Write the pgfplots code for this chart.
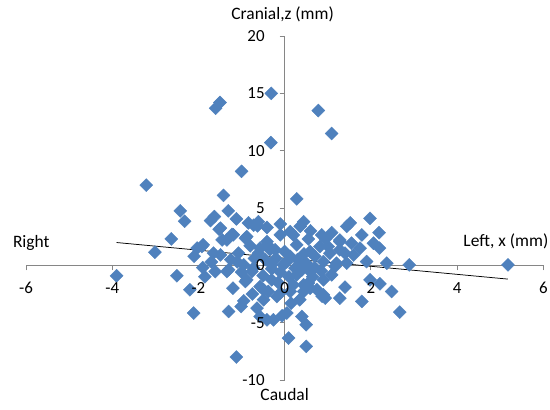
\documentclass[border=0pt]{standalone}
\usepackage{fontspec}
\setmainfont{Carlito}
\usepackage{pgfplots}
\pgfplotsset{compat=1.18}
\definecolor{mk}{HTML}{4F81BD}
\definecolor{axc}{HTML}{868686}
\pgfplotsset{common/.style={
  width=517.3bp, height=344bp, scale only axis,
  axis lines=middle,
  xmin=-6, xmax=6, ymin=-10, ymax=20,
  xtick={-6,-4,...,6}, ytick={-10,-5,...,20},
  hide obscured x ticks=false, hide obscured y ticks=false,
  tick align=outside, major tick length=5bp,
  ticklabel style={font=\fontsize{17}{20}\selectfont, text=black},
  xticklabel style={yshift=-6bp},
  yticklabel style={xshift=-9bp},
  /pgf/number format/assume math mode=true,
  clip=false,
}}
\begin{document}
\fontsize{17.5}{20}\selectfont
\begin{tikzpicture}
\begin{axis}[common,
  axis line style={axc, -, line width=0.75bp},
  tick style={axc, line width=0.75bp},
  xticklabels={}, yticklabels={},
]
\coordinate (bl) at (rel axis cs:0,0);
\coordinate (tr) at (rel axis cs:1,1);
\addplot[only marks, mark=square*, mark size=4.6bp, mark options={rotate=45, fill=mk, draw=mk}] coordinates {
(-0.31,15.0) (-1.60,13.7) (-1.50,14.2) (0.78,13.5) (1.09,11.5) (-0.32,10.7) (-1.00,8.2) (-3.21,7.0) (-1.42,6.1) (0.28,5.8)
(-2.42,4.75) (-2.32,3.85) (-2.63,2.3) (-1.63,4.25) (-1.72,3.9) (-1.52,3.15) (-1.31,4.75) (-1.12,4.05) (-0.84,3.7) (-0.63,3.45)
(-0.41,3.3) (-0.61,3.8) (-1.22,2.7) (-0.88,2.5) (-1.49,3.24) (-1.34,2.22) (-1.19,2.66) (-1.45,2.22) (-0.91,2.37) (-0.72,3.5)
(-0.41,2.07) (-0.10,2.66) (0.13,2.94) (0.20,2.65)
(0.44,3.8) (0.36,3.4) (0.86,2.65) (1.09,2.85) (1.52,3.7) (1.44,3.4) (1.98,4.1) (1.79,2.65) (2.19,2.85) (1.28,2.2)
(1.55,1.93) (2.06,1.93) (0.82,1.64) (1.01,1.64) (1.28,2.07) (1.28,1.35) (1.05,1.06) (1.40,1.06) (0.90,0.33) (1.20,0.19)
(1.90,0.33) (2.37,0.19) (2.89,0.04) (5.18,0.04) (1.17,-0.1) (1.44,0.19) (0.59,1.2) (0.28,1.79) (0.36,0.04) (0.13,0.77)
(0.24,-0.24) (-0.03,0.04)
(-3.01,1.15) (-3.90,-0.91) (-2.50,-0.91) (-2.03,1.5) (-1.89,1.79) (-1.92,1.64) (-1.65,1.06) (-1.49,0.91) (-1.07,1.06) (-0.57,1.5)
(-0.22,1.35) (-0.61,1.06) (-0.34,1.35) (-0.95,0.04) (-0.76,-0.54) (-0.72,-0.24) (-1.61,-0.54) (-1.30,-0.39) (-1.34,-0.54)
(-2.20,-2.13) (-1.20,-1.99) (-0.91,-1.41) (-2.11,-4.16) (-1.30,-4.02) (-1.01,-3.59) (-0.64,-3.73) (-0.57,-4.46) (-0.26,-4.75) (-0.41,-4.75)
(-0.06,-4.4) (0.05,-4.16) (0.40,-4.46) (0.50,-5.18) (0.09,-6.34) (0.50,-7.07) (-1.12,-8.0) (-0.49,-2.13) (-0.38,-2.28) (-0.10,-2.42)
(-0.88,-1.26) (-0.30,-1.26) (-0.57,-1.85) (-0.18,-2.72) (0.20,-1.7) (-0.49,-3.0) (0.44,-2.28) (0.59,-1.99) (0.90,-2.57) (0.28,-0.83)
(0.59,-0.54) (0.44,-1.7) (0.55,-1.55) (0.75,-2.13) (0.90,-1.26) (1.09,-0.83) (0.94,-2.86) (1.28,-2.86) (1.40,-1.9) (1.79,-3.15)
(1.98,-1.26) (2.21,-1.61) (2.48,-2.28) (2.67,-4.08) (0.13,-2.28) (0.87,-2.7)
(-0.45,0.5) (-0.2,0.6) (0.05,0.3) (0.3,0.5) (0.5,0.2) (0.7,0.8) (-0.3,-0.3) (-0.1,-0.6) (0.1,-1.0) (0.4,-0.4)
(0.7,-0.2) (-0.5,-0.9) (0.0,1.2) (0.45,1.0) (-0.15,-1.5) (0.65,-1.0) (0.85,-0.5) (-0.7,0.6) (-1.1,0.3) (-0.8,1.7)
(-0.4,1.8) (0.55,2.3) (0.6,3.0) (-1.9,-0.2) (-1.7,0.3) (-1.0,-0.6) (-1.25,0.5) (0.15,-3.3) (0.35,-3.0) (-0.75,-2.5)
(1.6,0.9) (1.75,1.5) (2.2,1.5) (0.95,2.3) (-2.1,0.8) (-1.85,-1.0) (-0.1,3.6) (-0.95,-3.1) (-0.3,0.05)
};
\addplot[black, line width=0.75bp, no marks] coordinates {(-3.9,1.99) (5.18,-1.2)};
\end{axis}
\begin{axis}[common,
  axis line style={draw=none},
  tick style={draw=none},
]
\node[anchor=center, xshift=-2bp, yshift=22bp] at (axis cs:0,20) {Cranial,z (mm)};
\node[anchor=center, yshift=-15bp] at (axis cs:0,-10) {Caudal};
\node[anchor=west, xshift=-19bp, yshift=22.5bp] at (axis cs:-6,0) {Right};
\node[anchor=east, xshift=11bp, yshift=24.5bp] at (axis cs:6,0) {Left, x (mm)};
\end{axis}
\pgfresetboundingbox
\path ([shift={(-26bp,-29bp)}]bl) rectangle ([shift={(6.7bp,36bp)}]tr);
\end{tikzpicture}
\end{document}
